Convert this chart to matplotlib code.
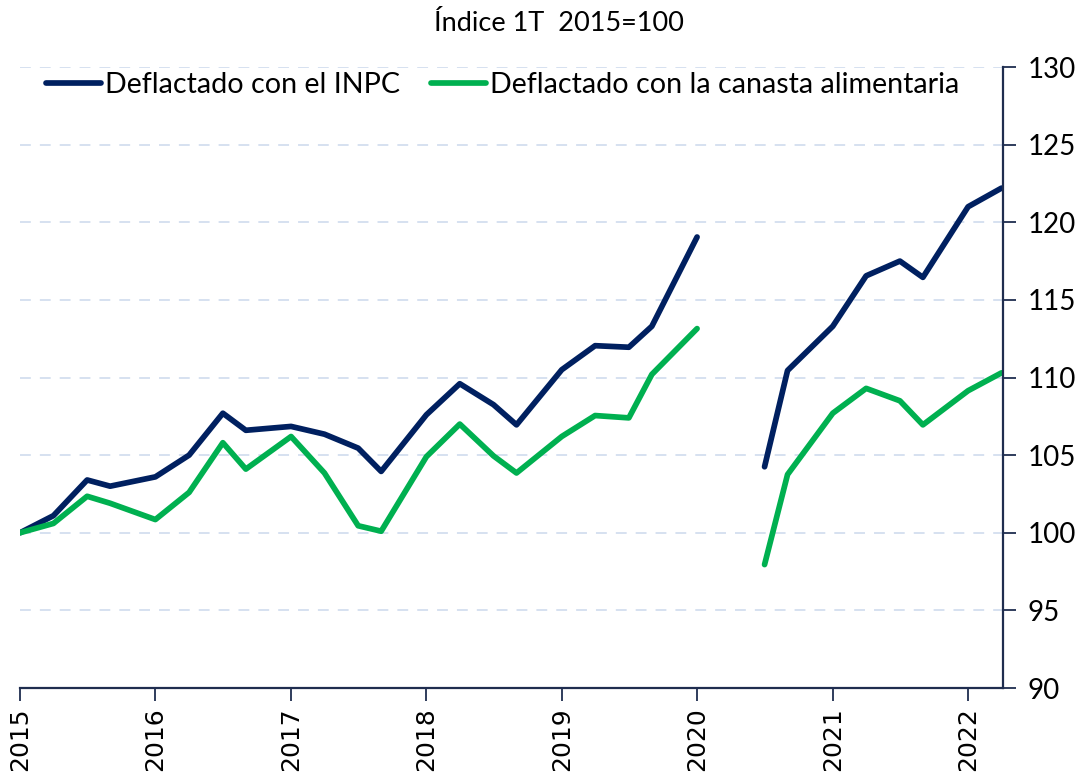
import numpy as np
import pandas as pd
import matplotlib
matplotlib.use("Agg")
import matplotlib.pyplot as plt
import matplotlib.dates as mdates

# Observation dates as they are placed on the time axis (4 per year)
dates = pd.to_datetime([
    "2015-01-01", "2015-04-01", "2015-07-01", "2015-09-01",
    "2016-01-01", "2016-04-01", "2016-07-01", "2016-09-01",
    "2017-01-01", "2017-04-01", "2017-07-01", "2017-09-01",
    "2018-01-01", "2018-04-01", "2018-07-01", "2018-09-01",
    "2019-01-01", "2019-04-01", "2019-07-01", "2019-09-01",
    "2020-01-01", "2020-04-01", "2020-07-01", "2020-09-01",
    "2021-01-01", "2021-04-01", "2021-07-01", "2021-09-01",
    "2022-01-01", "2022-04-01",
])

inpc = [
    100.0, 101.1, 103.4, 103.0,
    103.6, 105.0, 107.7, 106.6,
    106.85, 106.35, 105.45, 103.95,
    107.6, 109.6, 108.25, 106.95,
    110.5, 112.05, 111.95, 113.3,
    119.05, np.nan, 104.25, 110.45,
    113.3, 116.55, 117.5, 116.45,
    121.0, 122.2,
]

canasta = [
    100.0, 100.6, 102.35, 101.9,
    100.85, 102.6, 105.8, 104.1,
    106.2, 103.85, 100.45, 100.1,
    104.9, 107.0, 104.95, 103.85,
    106.2, 107.55, 107.4, 110.2,
    113.15, np.nan, 97.95, 103.75,
    107.7, 109.3, 108.5, 106.95,
    109.15, 110.3,
]

NAVY = "#002060"
GREEN = "#00b050"
AXIS = "#1f2d4f"

fig = plt.figure(figsize=(10.89, 7.82), dpi=100)
ax = fig.add_axes([0.0184, 0.1202, 0.9026, 0.7941])

ax.plot(dates, inpc, color=NAVY, lw=4.1, solid_capstyle="round",
        label="Deflactado con el INPC")
ax.plot(dates, canasta, color=GREEN, lw=4.1, solid_capstyle="round",
        label="Deflactado con la canasta alimentaria")

ax.set_ylim(90, 130)
ax.set_yticks(np.arange(90, 131, 5))
ax.set_xlim(pd.Timestamp("2015-01-01"), pd.Timestamp("2022-04-05"))
ax.xaxis.set_major_locator(mdates.YearLocator())
ax.xaxis.set_major_formatter(mdates.DateFormatter("%Y"))

for y in range(95, 131, 5):
    ax.axhline(y, color="#d3deef", lw=1.3, dashes=(6, 5), zorder=0)

ax.yaxis.tick_right()
for s in ["top", "left"]:
    ax.spines[s].set_visible(False)
for s in ["right", "bottom"]:
    ax.spines[s].set_color(AXIS)
    ax.spines[s].set_linewidth(1.6)

ax.tick_params(axis="y", direction="out", length=9, width=1.3, color=AXIS,
               labelsize=20, pad=9)
ax.tick_params(axis="x", direction="out", length=9, width=1.3, color=AXIS,
               labelsize=18, pad=5, labelrotation=90)
for lab in ax.get_yticklabels():
    lab.set_fontfamily("Lato")

ax.set_title("Índice 1T  2015=100", fontsize=19.5, family="Lato", pad=26, x=0.548)

ax.legend(loc="upper left", ncol=2, frameon=False,
          prop={"family": "Lato", "size": 20.6},
          handlelength=1.9, handletextpad=0.15, columnspacing=1.1,
          borderaxespad=0.0, bbox_to_anchor=(0.015, 1.01))

fig.savefig("out.png", dpi=100)
